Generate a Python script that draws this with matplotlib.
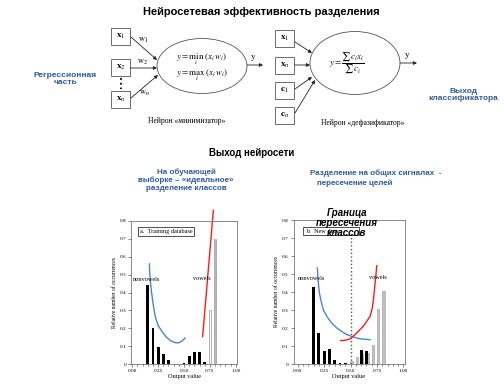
import matplotlib
matplotlib.use("Agg")
import matplotlib.pyplot as plt
from matplotlib.patches import Ellipse, Rectangle

plt.rcParams['mathtext.fontset'] = 'stix'

BLUE = '#2f5c9a'
SANS = 'Liberation Sans'
SERIF = 'Liberation Serif'

# histogram a: training database
bins_a = [0.15, 0.20, 0.25, 0.30, 0.35, 0.40, 0.45, 0.50, 0.55, 0.60, 0.65, 0.70]
black_a = [0.44, 0.20, 0.095, 0.058, 0.02, 0.0, 0.0, 0.005, 0.042, 0.066, 0.066, 0.013]
gray_a_bins = [0.75, 0.80]
gray_a = [0.30, 0.70]
gray_a_fill = ['white', '#b8b8b8']

# histogram b: new data
bins_b = [0.15, 0.20, 0.25, 0.30, 0.35, 0.40, 0.45, 0.60, 0.65]
black_b = [0.43, 0.17, 0.075, 0.082, 0.025, 0.008, 0.005, 0.08, 0.073]
gray_b_bins = [0.50, 0.55, 0.60, 0.65, 0.70, 0.75, 0.80]
gray_b = [0.015, 0.04, 0.06, 0.06, 0.105, 0.305, 0.405]

# hand-drawn curves
blue_a_x = [0.165, 0.17, 0.18, 0.20, 0.22, 0.25, 0.29, 0.33, 0.37, 0.41, 0.445, 0.48, 0.51]
blue_a_y = [0.56, 0.50, 0.43, 0.34, 0.27, 0.215, 0.18, 0.15, 0.13, 0.12, 0.118, 0.128, 0.145]
red_a_x = [0.68, 0.784]
red_a_y = [0.153, 0.86]
blue_b_x = [0.186, 0.19, 0.205, 0.225, 0.243, 0.28, 0.32, 0.37, 0.417, 0.46, 0.51, 0.59, 0.685]
blue_b_y = [0.533, 0.48, 0.394, 0.34, 0.30, 0.26, 0.228, 0.20, 0.18, 0.165, 0.153, 0.14, 0.135]
red_b_x = [0.407, 0.45, 0.495, 0.558, 0.62, 0.685, 0.705, 0.716, 0.732, 0.748]
red_b_y = [0.13, 0.132, 0.139, 0.172, 0.21, 0.265, 0.31, 0.357, 0.45, 0.546]

fig = plt.figure(figsize=(5.04, 3.87), dpi=100)
bg = fig.add_axes([0, 0, 1, 1])
bg.set_xlim(0, 504)
bg.set_ylim(387, 0)
bg.axis('off')

# titles
bg.text(261, 12, 'Нейросетевая эффективность разделения', ha='center', va='center',
        fontsize=8, fontweight='bold', family=SANS)
bg.text(65, 79, 'Регрессионная\nчасть', ha='center', va='center', fontsize=6,
        fontweight='bold', family=SANS, color=BLUE, linespacing=1.1)
bg.text(463, 95, 'Выход\nклассификатора', ha='center', va='center', fontsize=6,
        fontweight='bold', family=SANS, color=BLUE, linespacing=1.1)
bg.text(252, 153, 'Выход нейросети', ha='center', va='center', fontsize=7,
        fontweight='bold', family=SANS)
bg.text(186, 180, 'На обучающей\nвыборке – «идеальное»\nразделение классов', ha='center',
        va='center', fontsize=5.8, fontweight='bold', family=SANS, color=BLUE, linespacing=1.15)
bg.text(376, 173, 'Разделение на общих сигналах  -', ha='center', va='center', fontsize=5.8,
        fontweight='bold', family=SANS, color=BLUE)
bg.text(355, 183, 'пересечение целей', ha='center', va='center', fontsize=5.8,
        fontweight='bold', family=SANS, color=BLUE)


def box(x0, y0, label):
    bg.add_patch(Rectangle((x0, y0), 19, 17, fill=False, ec='#555555', lw=0.6))
    bg.text(x0 + 9.5, y0 + 8.5, label, ha='center', va='center', fontsize=6.5)


def arrow(x0, y0, x1, y1):
    bg.annotate('', xy=(x1, y1), xytext=(x0, y0),
                arrowprops=dict(arrowstyle='-|>', lw=0.6, color='#222222',
                                mutation_scale=5, shrinkA=0, shrinkB=0))


# minimizer neuron
box(111, 28, r'$\mathbf{x}_1$')
box(111, 59, r'$\mathbf{x}_2$')
box(111, 91, r'$\mathbf{x}_n$')
bg.plot([120.5, 120.5], [78, 89], ls=':', lw=1.3, color='black')
bg.add_patch(Ellipse((202, 66), 90, 55, fill=False, ec='#555555', lw=0.6))
arrow(131, 37, 157, 60)
arrow(130, 68, 157, 68)
arrow(131, 98, 158, 75)
bg.text(143, 40, r'$\mathrm{w}_1$', ha='center', va='center', fontsize=6)
bg.text(143, 62, r'$\mathrm{w}_2$', ha='center', va='center', fontsize=6)
bg.text(144, 93, r'$\mathrm{w}_n$', ha='center', va='center', fontsize=6)
bg.text(202, 59, r'$y = \min_i\,(x_i w_i)$', ha='center', va='center', fontsize=6.5)
bg.text(202, 75, r'$y = \max_i\,(x_i w_i)$', ha='center', va='center', fontsize=6.5)
arrow(247, 65, 263, 65)
bg.text(253, 58, r'$\mathrm{y}$', ha='center', va='center', fontsize=6.5)
bg.text(187, 121, 'Нейрон «минимизатор»', ha='center', va='center', fontsize=5.5, family=SERIF)

# defuzzifier neuron
box(275, 30, r'$\mathbf{x}_1$')
box(275, 57, r'$\mathbf{x}_n$')
box(275, 82, r'$\mathbf{c}_1$')
box(275, 107, r'$\mathbf{c}_n$')
bg.add_patch(Ellipse((355, 63), 90, 63, fill=False, ec='#555555', lw=0.6))
arrow(295, 42, 312, 53)
arrow(295, 65, 310, 65)
arrow(295, 89, 312, 77)
arrow(295, 113, 315, 80)
bg.text(347, 63, r'$y = \dfrac{\sum c_i x_i}{\sum c_i}$', ha='center', va='center', fontsize=6.5)
arrow(400, 63, 417, 63)
bg.text(407, 56, r'$\mathrm{y}$', ha='center', va='center', fontsize=6.5)
bg.text(363, 123, 'Нейрон «дефазификатор»', ha='center', va='center', fontsize=5.5, family=SERIF)


def setup(ax, xlim):
    ax.set_xlim(*xlim)
    ax.set_ylim(0, 0.8)
    for s in ax.spines.values():
        s.set_color('#777777')
        s.set_linewidth(0.6)
    ax.set_xticks([0, 0.25, 0.5, 0.75, 1.0])
    ax.set_xticklabels(['0.00', '0.25', '0.50', '0.75', '1.00'])
    ax.set_xticks([i * 0.05 for i in range(21)], minor=True)
    ax.set_yticks([0, 0.1, 0.2, 0.3, 0.4, 0.5, 0.6, 0.7, 0.8])
    ax.set_yticklabels(['0', '0.1', '0.2', '0.3', '0.4', '0.5', '0.6', '0.7', '0.8'])
    ax.tick_params(axis='both', which='both', labelsize=3.8, width=0.5, length=2,
                   pad=1.5, color='#555555')
    ax.tick_params(axis='x', which='minor', length=1.5)
    for lab in ax.get_xticklabels() + ax.get_yticklabels():
        lab.set_family(SERIF)
    ax.set_xlabel('Output value', fontsize=4.5, family=SERIF, labelpad=1)
    ax.set_ylabel('Relative number of occurrences', fontsize=4, family=SERIF, labelpad=2)


# histogram a
ax1 = fig.add_axes([131 / 504, 23 / 387, 106 / 504, 143 / 387])
setup(ax1, (-0.0125, 1.0125))
ax1.bar(bins_a, black_a, width=0.028, color='black', lw=0)
ax1.bar(gray_a_bins, gray_a, width=0.026, color=gray_a_fill, ec='#999999', lw=0.5)
ax1.plot(blue_a_x, blue_a_y, color='#4a86c8', lw=1.0, clip_on=False)
ax1.plot(red_a_x, red_a_y, color='#ff1a1a', lw=1.0, clip_on=False)
ax1.text(0.01, 0.475, 'nonvowels', fontsize=4.5, family=SERIF, va='center')
ax1.text(0.59, 0.48, 'vowels', fontsize=4.5, family=SERIF, va='center')
ax1.text(0.07, 0.74, 'a.  Training database', fontsize=4.5, family=SERIF, va='center',
         bbox=dict(boxstyle='square,pad=0.3', fc='white', ec='#333333', lw=0.6))

# histogram b
ax2 = fig.add_axes([293.5 / 504, 23 / 387, 111 / 504, 144 / 387])
setup(ax2, (-0.04, 1.01))
ax2.bar([b + 0.01 for b in gray_b_bins], gray_b, width=0.024, color='#c0c0c0', ec='#999999', lw=0.4)
ax2.bar(bins_b, black_b, width=0.026, color='black', lw=0)
ax2.plot([0.5, 0.5], [0, 0.72], ls=':', lw=1.0, color='#555555')
ax2.plot(blue_b_x, blue_b_y, color='#4a86c8', lw=1.0)
ax2.plot(red_b_x, red_b_y, color='#ff1a1a', lw=1.0)
ax2.text(0.0, 0.475, 'nonvowels', fontsize=4.5, family=SERIF, va='center')
ax2.text(0.67, 0.48, 'vowels', fontsize=4.5, family=SERIF, va='center')
ax2.add_patch(Rectangle((0.05, 0.715), 0.53, 0.045, fill=True, fc='white', ec='#333333', lw=0.6))
ax2.text(0.08, 0.737, 'b.  New data', fontsize=4.5, family=SERIF, va='center')

fig.text(347 / 504, 1 - 223 / 387, 'Граница\nпересечения\nклассов', ha='center', va='center',
         fontsize=7, style='italic', fontweight='bold', family=SANS, linespacing=1.0, zorder=10)

fig.savefig('out.png', dpi=100)
